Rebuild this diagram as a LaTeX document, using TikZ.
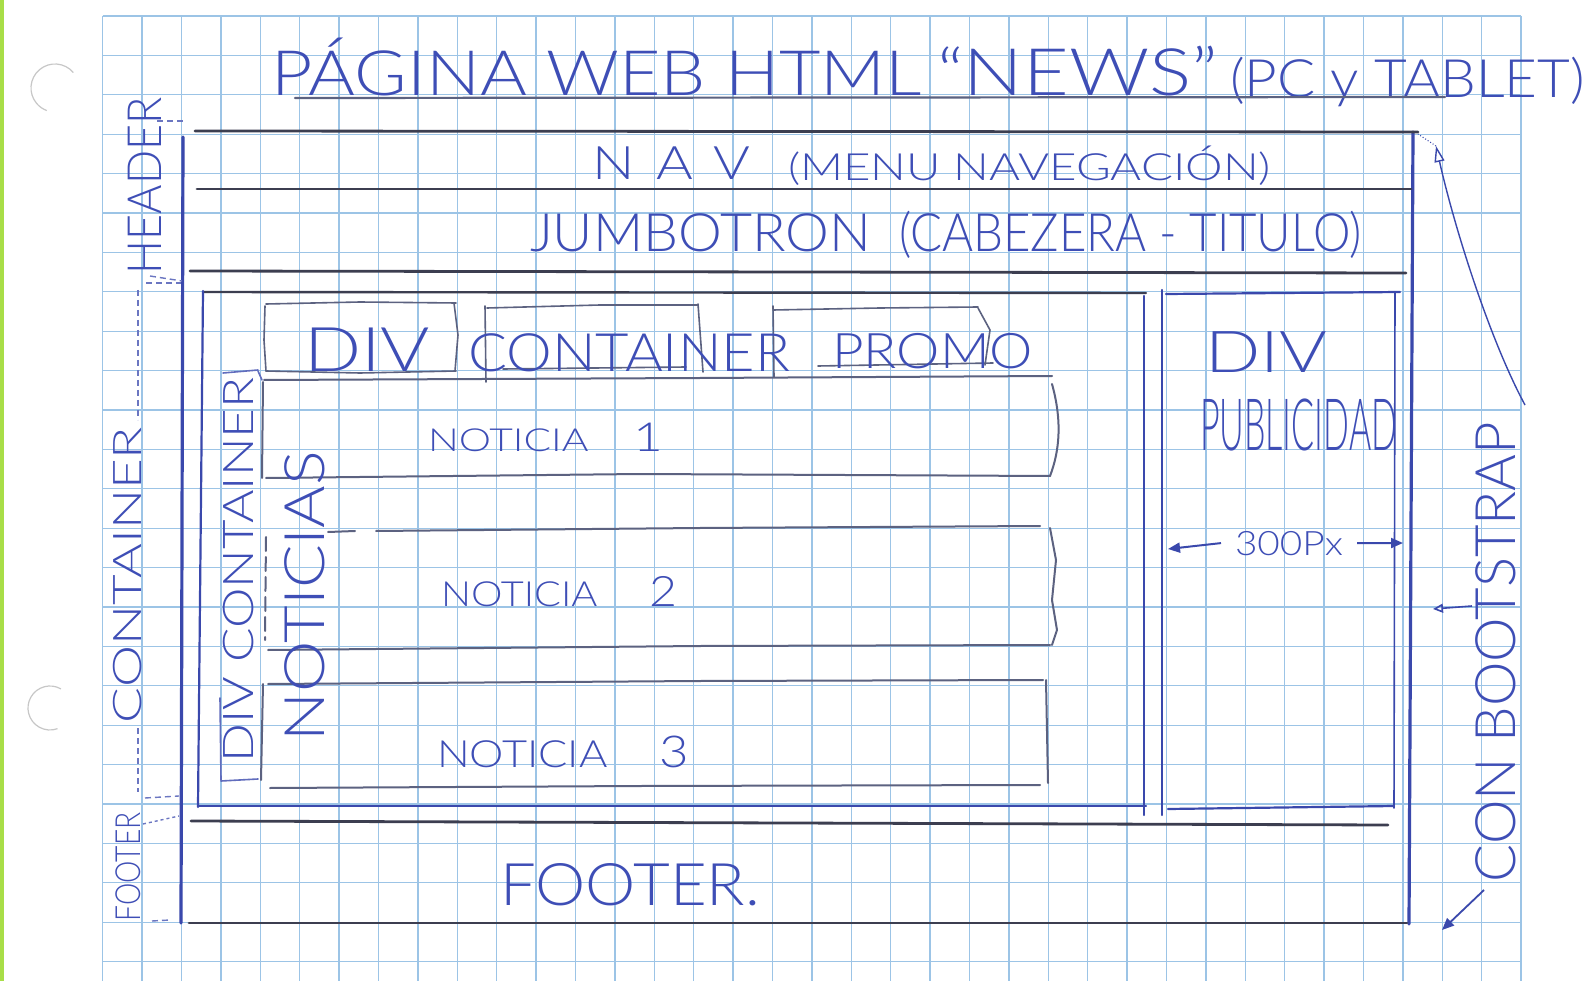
\documentclass[tikz,border=0pt]{standalone}
\usepackage{fontspec}
\setmainfont{Lato}[UprightFont={* Light}]
\usepackage{graphicx}
\usetikzlibrary{arrows.meta}
\definecolor{gridblue}{RGB}{156,196,230}
\definecolor{ink}{RGB}{58,72,172}
\definecolor{inktext}{RGB}{62,78,182}
\definecolor{penblack}{RGB}{60,62,80}
\definecolor{pengray}{RGB}{92,98,128}
\definecolor{marginlime}{RGB}{168,222,72}
% handwritten label: cap-based size, printed width, text (height kept)
\newcommand{\hwtext}[3]{\resizebox{#2pt}{\height}{\fontsize{\fpeval{#1*0.962}pt}{#1pt}\selectfont #3}}

\begin{document}
\begin{tikzpicture}[x=1pt,y=-1pt,
  gridln/.style={gridblue,line width=1.3pt},
  frame/.style={ink,line width=3.2pt,line cap=round},
  rule/.style={penblack,line width=2.8pt,line cap=round},
  boxln/.style={ink,line width=2.2pt,line cap=round},
  sketch/.style={pengray,line width=1.6pt,line cap=round,line join=round},
  sketchink/.style={ink!80,line width=1.6pt,line cap=round,line join=round},
  noticia/.style={pengray,line width=2pt,line cap=round,line join=round},
  brk/.style={ink!75,line width=1.4pt,dash pattern=on 6pt off 4pt},
  hw/.style={inner sep=0pt,outer sep=0pt,text=inktext},
  hwl/.style={hw,anchor=base west},
]
\useasboundingbox (0,0) rectangle (1588,981);
\fill[white] (0,0) rectangle (1588,981);
\fill[marginlime] (0,0) rectangle (4,981);

% squared paper
\foreach \i in {0,...,36}
  \draw[gridln] ({102.7+39.4*\i},16) -- ({102.7+39.4*\i},981);
\foreach \j in {0,...,24}
  \draw[gridln] (102.7,{16+39.4*\j}) -- (1521.1,{16+39.4*\j});

% binder holes
\draw[black!22,line width=1.2pt] ([shift={(-40:24)}]55,88) arc[start angle=-40,end angle=-250,radius=24];
\draw[black!22,line width=1.2pt] ([shift={(-60:22)}]50,708) arc[start angle=-60,end angle=-290,radius=22];

% title
\node[hwl] (ttlA) at (271,96) {\hwtext{65}{651}{PÁGINA WEB HTML}};
\node[hwl] (ttlB) at (937,96) {\hwtext{68}{281}{“NEWS”}};
\node[hwl] (ttlC) at (1230,98) {\hwtext{55}{355}{(PC y TABLET)}};
\draw[sketch,line width=2.2pt] (295,98) -- (1445,97);

% page frame and horizontal bands
\draw[frame] (183,137) -- (181,923);
\draw[frame] (1413,132) -- (1409,924);
\draw[rule] (195,131) -- (1418,132);
\draw[rule] (189,923) -- (1407,923);
\draw[rule] (197,189) -- (1411,189);
\draw[rule] (190,271) -- (1406,273);
\draw[rule] (191,821) -- (1388,825);

\node[hwl] (navA) at (592,180) {\hwtext{48}{158}{\addfontfeature{LetterSpace=40}NAV}};
\node[hwl] (navB) at (788,181) {\hwtext{39}{483}{(MENU NAVEGACIÓN)}};
\node[hwl] (jumA) at (530,252) {\hwtext{55}{341}{JUMBOTRON}};
\node[hwl] (jumB) at (899,252) {\hwtext{55}{463}{(CABEZERA - TITULO)}};
\node[hwl] (foot) at (500,905) {\hwtext{61}{260}{FOOTER.}};

% main column
\draw[rule,line width=2.4pt] (203,292) -- (1146,293);
\draw[boxln] (203,291) -- (198,807);
\draw[boxln] (199,806) -- (1146,806);
\draw[boxln] (1144,296) -- (1144,815);
% advertising column
\draw[boxln] (1162,290) -- (1162,815);
\draw[boxln] (1166,294) -- (1400,292);
\draw[boxln,line width=1.6pt] (1395,292) -- (1394,808);
\draw[boxln] (1168,809) -- (1394,806);

% promo row
\draw[sketch] (266,304) -- (360,302) -- (456,303);
\draw[sketch] (265,306) -- (264,340) -- (266,371);
\draw[sketch] (454,303) -- (458,335) -- (455,371);
\draw[sketch] (266,371) -- (360,373) -- (456,371);
\draw[sketch] (487,308) -- (600,305) -- (698,305);
\draw[sketch] (485,306) -- (486,382);
\draw[sketch] (698,304) -- (703,372);
\draw[sketch] (503,369) -- (686,367);
\draw[sketch] (773,310) -- (880,308) -- (978,307);
\draw[sketch] (773,306) -- (774,377);
\draw[sketch] (978,308) -- (990,330) -- (985,365);
\draw[sketch] (818,366) -- (993,363);
\node[hwl] (prA) at (304,372) {\hwtext{64}{126}{DIV}};
\node[hwl] (prB) at (468,372) {\hwtext{55}{322}{CONTAINER}};
\node[hwl] (prC) at (832,369) {\hwtext{51}{201}{PROMO}};

% news items
\draw[noticia] (264,380) -- (700,378) -- (1052,376);
\draw[noticia] (1052,384) .. controls (1062,420) and (1060,450) .. (1050,476);
\draw[noticia] (266,478) -- (640,474) -- (1050,476);
\draw[noticia] (263,382) -- (262,478);
\draw[noticia] (328,532) -- (355,531);
\draw[noticia] (376,531) -- (700,528) -- (1040,526);
\draw[noticia] (1050,528) -- (1056,560) -- (1052,600) -- (1057,630) -- (1052,645);
\draw[noticia] (268,650) -- (700,646) -- (1050,645);
\draw[noticia,dash pattern=on 14pt off 6pt] (266,537) -- (265,640);
\draw[noticia] (268,684) -- (700,681) -- (1043,680);
\draw[noticia] (1046,680) -- (1048,783);
\draw[noticia] (270,788) -- (640,786) -- (1040,785);
\draw[noticia] (263,684) -- (261,780);
\node[hwl] (n1) at (428,452) {\hwtext{33}{235}{NOTICIA\hspace{1.1em}{\fontsize{40pt}{40pt}\selectfont 1}}};
\node[hwl] (n2) at (441,606) {\hwtext{36}{236}{NOTICIA\hspace{1.3em}{\fontsize{42pt}{42pt}\selectfont 2}}};
\node[hwl] (n3) at (437,767) {\hwtext{39}{252}{NOTICIA\hspace{1.2em}{\fontsize{44pt}{44pt}\selectfont 3}}};

% news container bracket
\draw[sketchink] (223,373) -- (258,370);
\draw[sketchink] (258,371) -- (262,380);
\draw[sketchink] (220,698) -- (221,780);
\draw[sketchink] (221,781) -- (258,779);

% side labels
\node[hw,rotate=90] (lhead) at (145,186) {\hwtext{49}{177}{HEADER}};
\node[hw,rotate=90] (lcont) at (128,575) {\hwtext{41}{296}{CONTAINER}};
\node[hw,rotate=90] (ldiv) at (239,570) {\hwtext{44}{385}{DIV CONTAINER}};
\node[hw,rotate=90] (lnot) at (305,596) {\hwtext{58}{290}{NOTICIAS}};
\node[hw,rotate=90] (lfoot) at (128,867) {\hwtext{36}{109}{FOOTER}};
\node[hw,rotate=90] (bstrap) at (1496,652) {\hwtext{58}{460}{CON BOOTSTRAP}};

\draw[brk] (157,121) -- (186,121);
\draw[brk] (150,276) -- (182,281);
\draw[brk] (146,283) -- (181,283);
\draw[brk] (138,290) -- (138,420);
\draw[brk] (138,728) -- (138,792);
\draw[brk] (145,798) -- (179,796);
\draw[brk,dash pattern=on 3pt off 3pt] (143,824) -- (179,816);
\draw[brk] (152,921) -- (170,920);

% advertising column labels
\node[hwl] (pdA) at (1205,373) {\hwtext{60}{122}{DIV}};
\node[hwl] (pdB) at (1200,450) {\hwtext{75}{197}{PUBLICIDAD}};
\node[hw,anchor=base,inner xsep=14pt] (px) at (1289,555) {\hwtext{35}{108}{300Px}};
\coordinate (pArL) at (1168,549);
\coordinate (pArR) at (1403,543);
\draw[ink,line width=2pt,-{Triangle[length=12pt,width=10pt]}] (px.west) -- (pArL);
\draw[ink,line width=2pt,-{Triangle[length=12pt,width=10pt]}] (px.east) -- (pArR);

% bootstrap pointers
\coordinate (bsTop) at (1525,405);
\coordinate (bsTip) at (1436,146);
\coordinate (pgTR) at (1418,134);
\coordinate (bsLow) at (1484,890);
\coordinate (pgBR) at (1442,930);
\coordinate (bsMidA) at (1472,606);
\coordinate (bsMidB) at (1433,609);
\draw[ink,line width=1.4pt,-{Triangle[open,length=16pt,width=10pt]}] (bsTop) .. controls (1490,340) and (1455,230) .. (bsTip);
\draw[ink,line width=1pt,dotted] (bsTip) -- (pgTR);
\draw[ink,line width=1.8pt,-{Triangle[length=12pt,width=10pt]}] (bsLow) -- (pgBR);
\draw[ink,line width=1.6pt,-{Triangle[open,length=10pt,width=9pt]}] (bsMidA) -- (bsMidB);
\end{tikzpicture}
\end{document}
